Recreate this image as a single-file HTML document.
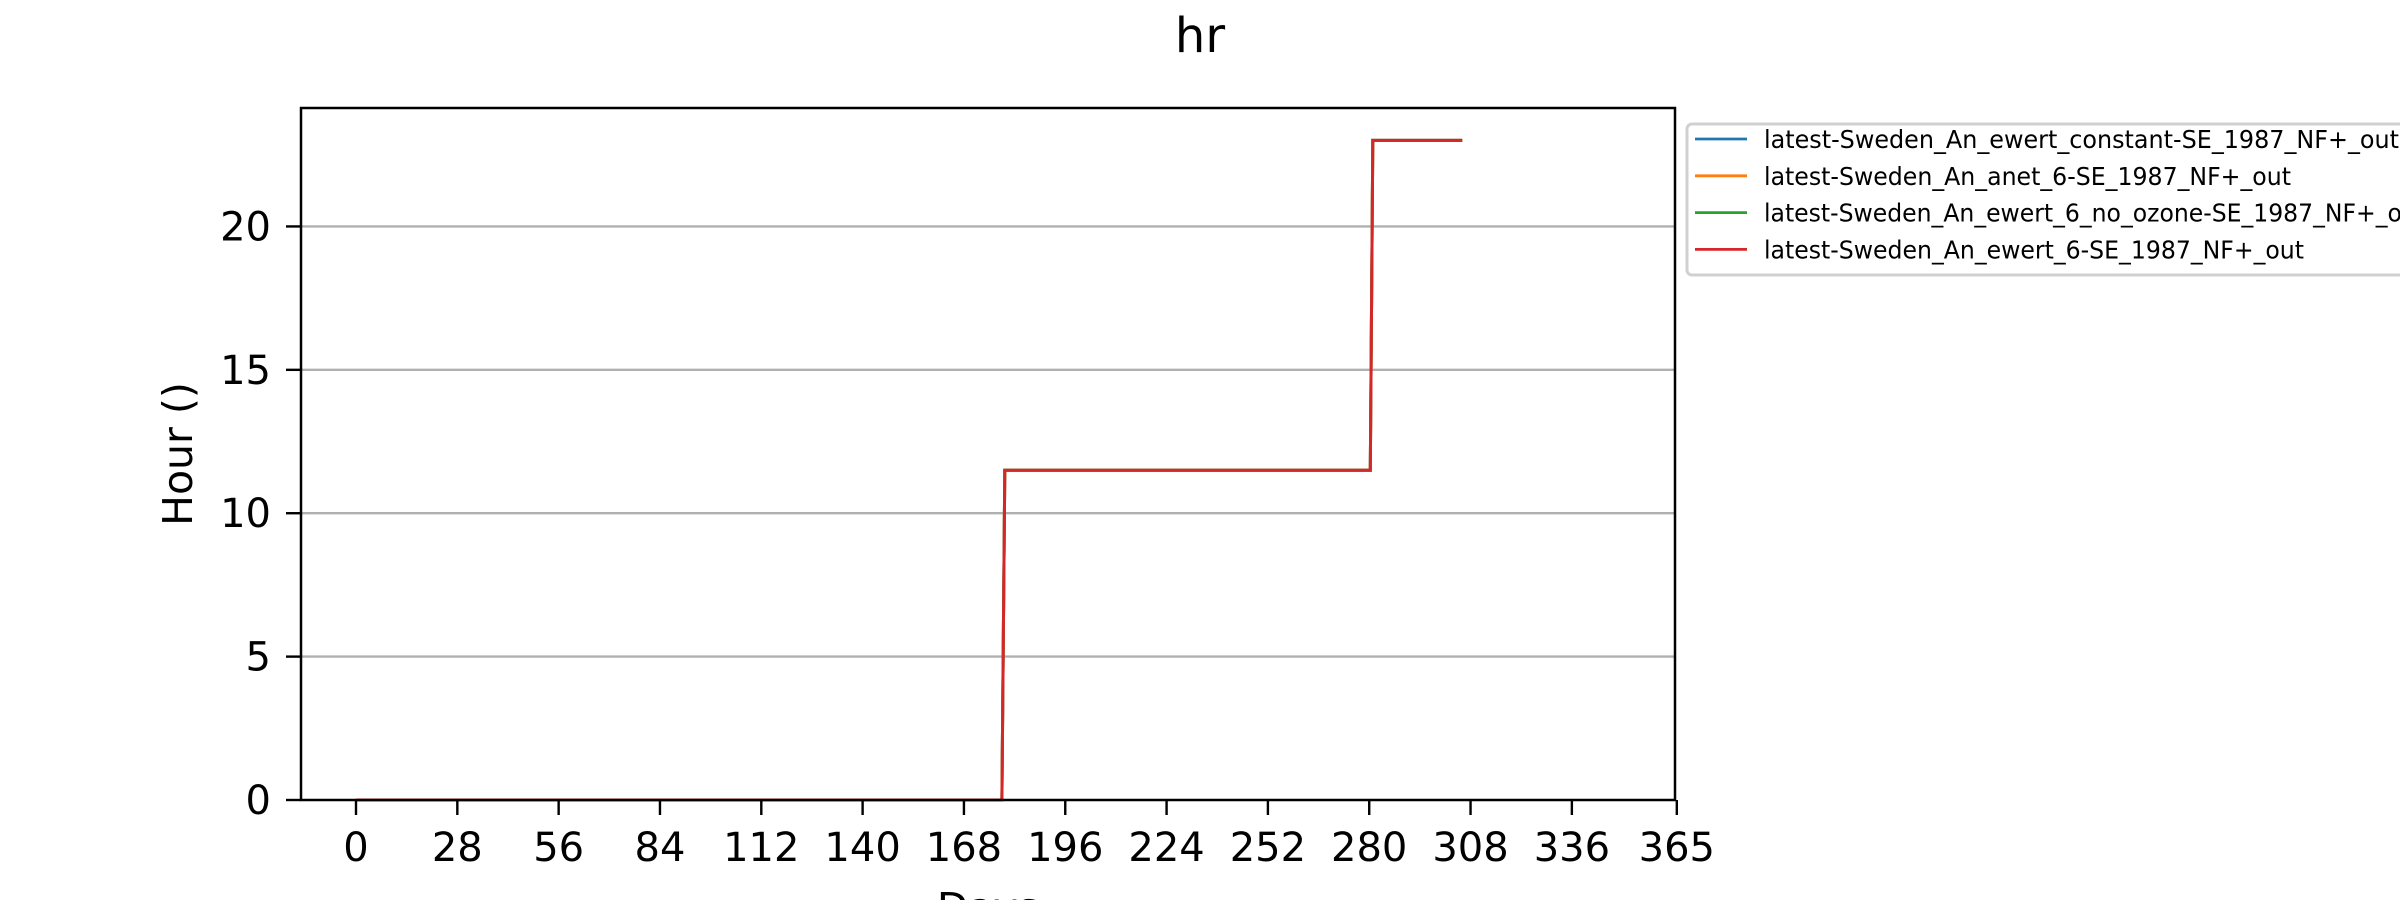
<!DOCTYPE html>
<html><head><meta charset="utf-8"><style>
html,body{margin:0;padding:0;background:#fff;}
svg text{font-family:"DejaVu Sans","Liberation Sans",sans-serif;fill:#000;}
</style></head><body>
<svg id="chart" width="2400" height="900" viewBox="0 0 2400 900" xmlns="http://www.w3.org/2000/svg">
<rect width="2400" height="900" fill="#fff"/>
<text x="1200" y="52" font-size="48" text-anchor="middle">hr</text>
<g id="grid"></g>
<g id="series"></g>
<rect x="301" y="108" width="1374" height="692" fill="none" stroke="#000" stroke-width="2.5"/>
<g id="ticks"></g>
<text transform="translate(192,454) rotate(-90)" font-size="41" text-anchor="middle">Hour ()</text>
<text x="988" y="922" font-size="41" text-anchor="middle">Days</text>
<g id="legend"></g>
</svg>
<script>
const xTicks=[0,28,56,84,112,140,168,196,224,252,280,308,336,365];
const yTicks=[0,5,10,15,20];
const seriesNames=["latest-Sweden_An_ewert_constant-SE_1987_NF+_out","latest-Sweden_An_anet_6-SE_1987_NF+_out","latest-Sweden_An_ewert_6_no_ozone-SE_1987_NF+_out","latest-Sweden_An_ewert_6-SE_1987_NF+_out"];
const seriesColors=["#1f77b4","#ff7f0e","#2ca02c","#d62728"];
const days=[0,178.5,179.3,280.3,281,305.7];
const hours=[0,0,11.5,11.5,23,23];

const NS="http://www.w3.org/2000/svg";
const L=301,R=1675,T=108,B=800,xMin=-15.2,xMax=364.5,yMin=0,yMax=24.13;
const xs=v=>L+(v-xMin)/(xMax-xMin)*(R-L);
const ys=v=>B-(v-yMin)/(yMax-yMin)*(B-T);
function mk(tag,attrs,parent){const e=document.createElementNS(NS,tag);for(const k in attrs)e.setAttribute(k,attrs[k]);parent.appendChild(e);return e;}
const grid=document.getElementById('grid'),ticks=document.getElementById('ticks'),ser=document.getElementById('series'),leg=document.getElementById('legend');
yTicks.forEach(v=>{
  const y=ys(v);
  if(v>0){const g=mk('line',{x1:L,x2:R,y1:y,y2:y,stroke:'#b0b0b0','stroke-width':2.4},grid);
  
  }
  const t=mk('line',{x1:L-15,x2:L,y1:y,y2:y,stroke:'#000','stroke-width':2.4},ticks);
  
  
  const lb=mk('text',{x:L-30,y:y+14,'font-size':40,'text-anchor':'end'},ticks);
  lb.textContent=v;
  
  
});
xTicks.forEach(v=>{
  const x=xs(v);
  const t=mk('line',{x1:x,x2:x,y1:B,y2:B+15,stroke:'#000','stroke-width':2.4},ticks);
  
  
  const lb=mk('text',{x:x,y:B+61,'font-size':40,'text-anchor':'middle'},ticks);
  lb.textContent=v;
  
  
});
seriesNames.forEach((n,i)=>{
  const pts=days.map((d,j)=>xs(d).toFixed(1)+','+ys(hours[j]).toFixed(1)).join(' ');
  const p=mk('polyline',{points:pts,fill:'none',stroke:seriesColors[i],'stroke-width':3},ser);
  
  
});
const box=mk('rect',{x:1687,y:124,width:760,height:151,rx:5,fill:'#fff',stroke:'#d0d0d0','stroke-width':3},leg);


seriesNames.forEach((n,i)=>{
  const y=139+i*36.8;
  const l=mk('line',{x1:1695,x2:1747,y1:y,y2:y,stroke:seriesColors[i],'stroke-width':2.8},leg);
  
  
  const t=mk('text',{x:1764,y:y+9,'font-size':25,textLength:(n.length*13.5).toFixed(0),lengthAdjust:'spacingAndGlyphs'},leg);
  t.textContent=n;
  
  
});
</script>
</body></html>
